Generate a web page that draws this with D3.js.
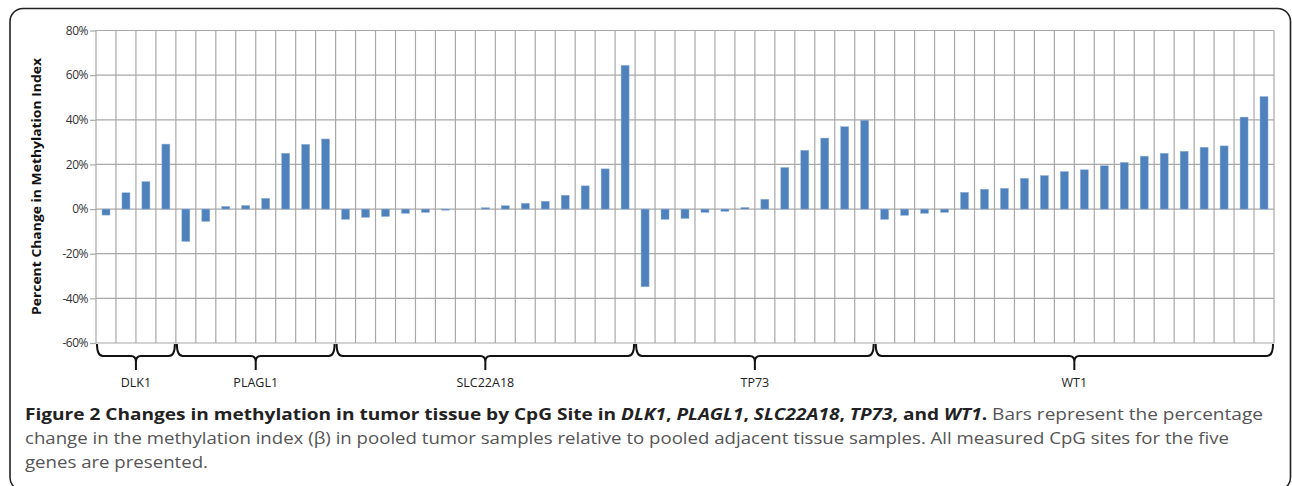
<!DOCTYPE html>
<html>
<head>
<meta charset="utf-8">
<script src="https://cdn.jsdelivr.net/npm/d3@7"></script>
<style>
  html, body { margin: 0; padding: 0; background: #fff; }
  svg { display: block; }
</style>
</head>
<body>
<svg id="chart" width="1292" height="486"></svg>
<script>
/* Chart data (percent change per CpG site)
--------------------------------------------------- */
const genes = ['DLK1', 'PLAGL1', 'SLC22A18', 'TP73', 'WT1'];
const dlk1 = [-2.7, 7.3, 12.3, 29.1];
const plagl1 = [-14.5, -5.5, 1.2, 1.6, 4.8, 25, 29, 31.4];
const slc22a18 = [-4.6, -3.7, -3.3, -1.9, -1.5, -0.5, 0, 0.6, 1.5, 2.6, 3.5, 6.2, 10.4, 18, 64.4];
const tp73 = [-34.8, -4.6, -4.2, -1.5, -1, 0.7, 4.4, 18.6, 26.3, 31.8, 36.9, 39.8];
const wt1 = [-4.6, -2.8, -1.9, -1.5, 7.5, 8.9, 9.3, 13.8, 15, 16.8, 17.6, 19.4, 20.9, 23.7, 25, 25.9, 27.7, 28.3, 41.2, 50.4];
const yTicks = [-60, -40, -20, 0, 20, 40, 60, 80];
const yTitle = 'Percent Change in Methylation Index';

/* Flatten into one row per CpG site
--------------------------------------------------- */
const series = [dlk1, plagl1, slc22a18, tp73, wt1];
let sites = [];
series.forEach((values, g) => values.forEach(v => sites.push({ gene: genes[g], value: v })));

const svg = d3.select('#chart');

/* Figure frame
--------------------------------------------------- */
svg
  .append('rect')
  .attr('x', 10)
  .attr('y', 8.5)
  .attr('width', 1280.5)
  .attr('height', 482)
  .attr('rx', 13)
  .attr('fill', 'none')
  .attr('stroke', '#222')
  .attr('stroke-width', 1.6);

/* Scales
--------------------------------------------------- */
const plot = { left: 96, right: 1274, top: 30.5, bottom: 343 };
const x = d3
  .scaleBand()
  .domain(d3.range(sites.length))
  .range([plot.left, plot.right])
  .padding(0);
const y = d3.scaleLinear().domain([-60, 80]).range([plot.bottom, plot.top]);
const barWidth = 8;

/* Grid lines
--------------------------------------------------- */
const grid = svg.append('g').attr('stroke', '#a8a8a8').attr('stroke-width', 1.2);

grid
  .selectAll('.hgrid')
  .data(yTicks)
  .enter()
  .append('line')
  .attr('x1', plot.left)
  .attr('x2', plot.right)
  .attr('y1', d => y(d))
  .attr('y2', d => y(d));

grid
  .selectAll('.vgrid')
  .data(d3.range(sites.length + 1))
  .enter()
  .append('line')
  .attr('x1', i => (i < sites.length ? x(i) : plot.right))
  .attr('x2', i => (i < sites.length ? x(i) : plot.right))
  .attr('y1', plot.top)
  .attr('y2', plot.bottom);

/* Y axis
--------------------------------------------------- */
const yAxis = svg
  .append('g')
  .attr('transform', 'translate(' + plot.left + ',0)')
  .call(
    d3
      .axisLeft(y)
      .tickValues(yTicks)
      .tickSize(6)
      .tickPadding(2)
      .tickFormat(d => d + '%'),
  );
yAxis.select('.domain').remove();
yAxis.selectAll('line').attr('stroke', '#a8a8a8').attr('stroke-width', 1.2);
yAxis
  .selectAll('text')
  .attr('fill', '#333')
  .style('font-family', '"Open Sans", sans-serif')
  .style('font-size', '12px')
  .style('letter-spacing', '-0.5px');

svg
  .append('text')
  .attr('transform', 'translate(41,' + 186.5 + ') rotate(-90)')
  .attr('text-anchor', 'middle')
  .attr('fill', '#111')
  .attr('textLength', 257)
  .attr('lengthAdjust', 'spacingAndGlyphs')
  .style('font-family', '"Open Sans", sans-serif')
  .style('font-weight', 'bold')
  .style('font-size', '13px')
  .text(yTitle);

/* Bars
--------------------------------------------------- */
svg
  .selectAll('.bar')
  .data(sites)
  .enter()
  .append('rect')
  .attr('class', 'bar')
  .attr('x', (d, i) => x(i) + (x.bandwidth() - barWidth) / 2)
  .attr('width', barWidth)
  .attr('y', d => y(Math.max(0, d.value)))
  .attr('height', d => Math.abs(y(d.value) - y(0)))
  .attr('fill', '#4f81bd')
  .attr('stroke', '#8fb0d8')
  .attr('stroke-width', 0.5);

/* Gene braces and labels
--------------------------------------------------- */
let start = 0;
const groups = series.map((values, g) => {
  const group = { gene: genes[g], first: start, last: start + values.length - 1 };
  start += values.length;
  return group;
});

function bracePath(g) {
  const x0 = x(g.first) + 1;
  const x1 = x(g.last) + x.bandwidth() - 1;
  const mid = (x0 + x1) / 2;
  const top = plot.bottom + 1;
  const line = 356;
  const tip = 370;
  return [
    'M', x0, top,
    'Q', x0, line, x0 + 6, line,
    'L', mid - 5, line,
    'Q', mid, line, mid, line + 6,
    'L', mid, tip,
    'M', mid, line + 6,
    'Q', mid, line, mid + 5, line,
    'L', x1 - 6, line,
    'Q', x1, line, x1, top,
  ].join(' ');
}

svg
  .selectAll('.brace')
  .data(groups)
  .enter()
  .append('path')
  .attr('d', bracePath)
  .attr('fill', 'none')
  .attr('stroke', '#111')
  .attr('stroke-width', 2);

svg
  .selectAll('.gene')
  .data(groups)
  .enter()
  .append('text')
  .attr('x', g => (x(g.first) + x(g.last) + x.bandwidth()) / 2)
  .attr('y', 386.5)
  .attr('text-anchor', 'middle')
  .attr('fill', '#222')
  .style('font-family', '"Open Sans", sans-serif')
  .style('font-size', '12.5px')
  .text(g => g.gene);

/* Caption
--------------------------------------------------- */
const captionParts = [
  { t: 'Figure 2 Changes in methylation in tumor tissue by CpG Site in ', w: 'bold' },
  { t: 'DLK1', w: 'bold', i: true },
  { t: ', ', w: 'bold' },
  { t: 'PLAGL1', w: 'bold', i: true },
  { t: ', ', w: 'bold' },
  { t: 'SLC22A18', w: 'bold', i: true },
  { t: ', ', w: 'bold' },
  { t: 'TP73', w: 'bold', i: true },
  { t: ', and ', w: 'bold' },
  { t: 'WT1', w: 'bold', i: true },
  { t: '.', w: 'bold' },
  { t: ' Bars represent the percentage', w: 'normal' },
];
const captionLines = [
  'change in the methylation index (β) in pooled tumor samples relative to pooled adjacent tissue samples. All measured CpG sites for the five',
  'genes are presented.',
];

const caption = svg
  .append('g')
  .style('font-family', '"Open Sans", sans-serif')
  .style('font-size', '16.5px');

const line1 = caption.append('text').attr('x', 25).attr('y', 420);
captionParts.forEach(p =>
  line1
    .append('tspan')
    .attr('font-weight', p.w)
    .attr('font-style', p.i ? 'italic' : 'normal')
    .attr('fill', p.w === 'bold' ? '#222' : '#555')
    .text(p.t),
);
line1.attr('textLength', 1238).attr('lengthAdjust', 'spacingAndGlyphs');

const line2 = caption
  .append('text')
  .attr('x', 25)
  .attr('y', 444)
  .attr('fill', '#555')
  .text(captionLines[0]);
const squeeze = 1204 / line2.node().getComputedTextLength();
line2.attr('textLength', 1204).attr('lengthAdjust', 'spacingAndGlyphs');

const line3 = caption
  .append('text')
  .attr('x', 25)
  .attr('y', 468)
  .attr('fill', '#555')
  .text(captionLines[1]);
line3
  .attr('textLength', line3.node().getComputedTextLength() * squeeze)
  .attr('lengthAdjust', 'spacingAndGlyphs');
</script>
</body>
</html>
